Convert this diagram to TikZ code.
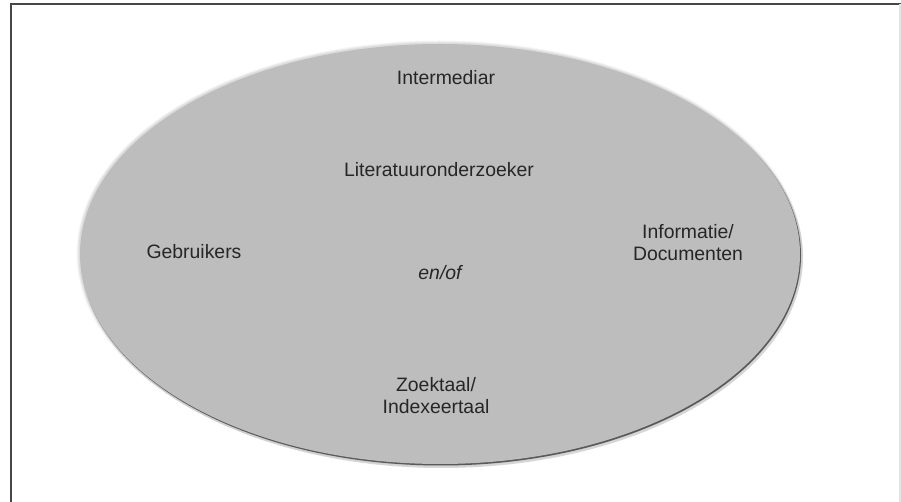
\documentclass[tikz,border=0pt]{standalone}
\usepackage{fontspec}
\setmainfont{Liberation Sans}
\begin{document}
\begin{tikzpicture}[x=0.5pt,y=-0.5pt,
  lbl/.style={font=\fontsize{9.7}{11}\selectfont, text=black!85, align=center, inner sep=0pt},
  frameline/.style={draw=black!72, line width=0.9pt},
  bubble/.style={fill=black!26}]
\useasboundingbox (0,0) rectangle (901,502);
\fill[white] (0,0) rectangle (901,502);
% frame
\draw[frameline] (11,502) -- (11,4) -- (901,4);
\draw[black!10, line width=0.6pt] (900,4) -- (900,502);
% soft halo (top-left fade)
\foreach \r/\o in {3/0.12,2/0.2,1/0.3}{
  \fill[black!26, opacity=\o] (439.5,253.5) ellipse [x radius=\r*0.5pt+180pt, y radius=\r*0.5pt+105pt];
}
% dark rim (bottom-right shadow)
\fill[black!40, opacity=0.4] (442,257) ellipse [x radius=180.5pt, y radius=105.5pt];
\fill[black!65] (441,255.5) ellipse [x radius=180pt, y radius=105pt];
% main bubble
\fill[bubble] (440,254) ellipse [x radius=180pt, y radius=105pt];
% labels
\node[lbl] (interm) at (446,78) {Intermediar};
\node[lbl] (lit) at (439,170) {Literatuuronderzoeker};
\node[lbl] (gebr) at (194,252) {Gebruikers};
\node[lbl] (info) at (688,243) {Informatie/\\Documenten};
\node[lbl, font=\fontsize{9.7}{11}\selectfont\itshape] (enof) at (440,273) {en/of};
\node[lbl] (zoek) at (436,396) {Zoektaal/\\Indexeertaal};
\end{tikzpicture}
\end{document}
